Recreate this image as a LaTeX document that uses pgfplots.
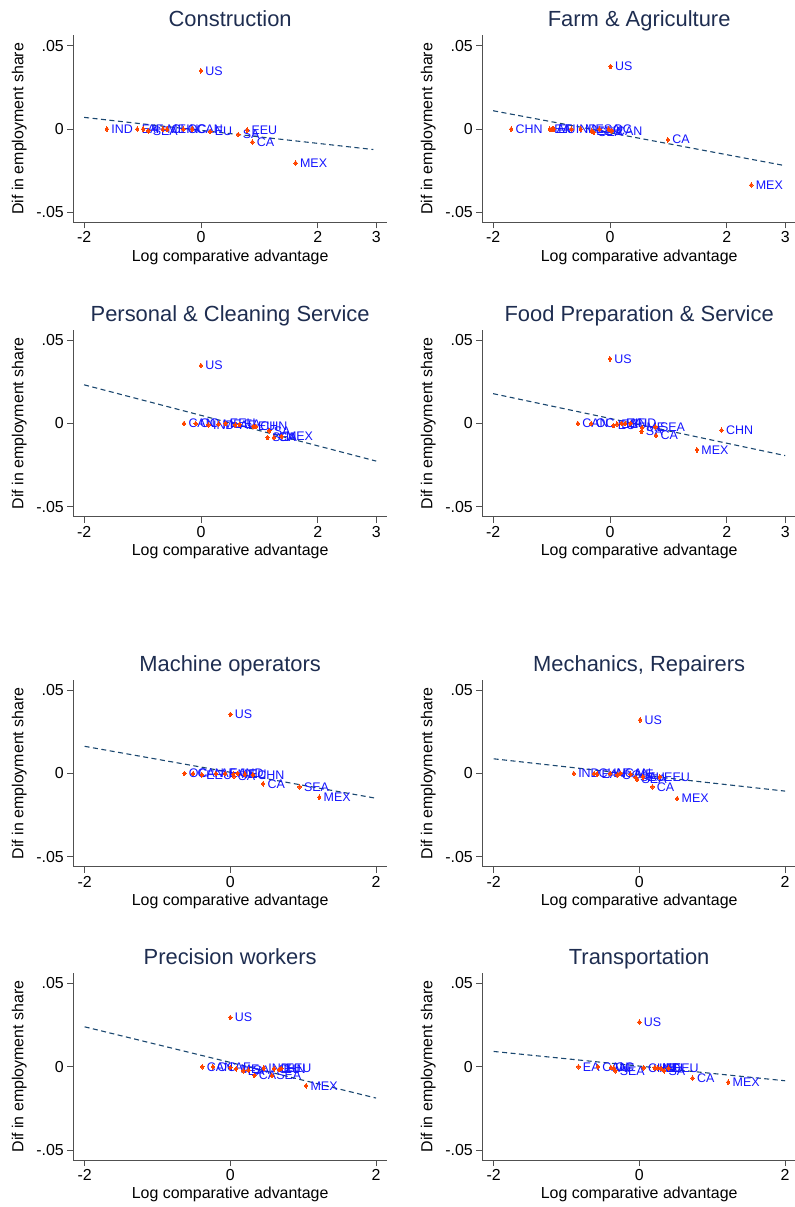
\documentclass[border=0pt]{standalone}
\usepackage{pgfplots}
\usepackage{pgfplotstable}
\pgfplotsset{compat=1.18}
\usepackage{fontspec}
\setmainfont{Liberation Sans}
\definecolor{ttl}{RGB}{30,45,80}
\definecolor{mk}{RGB}{255,69,0}
\definecolor{lb}{RGB}{20,20,255}
\definecolor{fitc}{RGB}{26,71,111}
\definecolor{axc}{RGB}{80,80,80}

% Construction
\pgfplotstableread[row sep=\\]{
x y l\\
0 0.035 US\\
-1.61 0 IND\\
-1.09 0 EA\\
-0.99 0 AF\\
-0.90 -0.001 SEA\\
-0.65 0 ME\\
-0.58 0 CHN\\
-0.30 0 OC\\
-0.15 0 CAN\\
0.16 -0.0015 EU\\
0.64 -0.0033 SA\\
0.79 -0.0006 EEU\\
0.88 -0.0078 CA\\
1.62 -0.0204 MEX\\
}\tA
% Farm
\pgfplotstableread[row sep=\\]{
x y l\\
0.01 0.0376 US\\
-1.69 0 CHN\\
-1.03 0 EA\\
-0.99 0 AF\\
-0.96 0 EU\\
-0.66 0 IND\\
-0.50 0 ME\\
-0.31 -0.0012 EEU\\
-0.28 -0.002 SEA\\
-0.18 0 SA\\
-0.02 0 OC\\
0.03 -0.001 CAN\\
0.99 -0.0064 CA\\
2.42 -0.0336 MEX\\
}\tB
% Personal
\pgfplotstableread[row sep=\\]{
x y l\\
0 0.0348 US\\
-0.29 0 CAN\\
-0.09 0 OC\\
0.13 -0.0008 IND\\
0.30 -0.0004 ME\\
0.42 0 EEU\\
0.59 -0.0008 AF\\
0.66 -0.0006 EA\\
0.90 -0.0018 EU\\
0.94 -0.0018 CHN\\
1.17 -0.0044 SA\\
1.14 -0.0084 SEA\\
1.25 -0.0084 CA\\
1.38 -0.0078 MEX\\
}\tC
% Food
\pgfplotstableread[row sep=\\]{
x y l\\
0 0.0388 US\\
-0.55 0 CAN\\
-0.32 0 OC\\
0.06 -0.0012 EU\\
0.12 -0.0004 EEU\\
0.20 0 EA\\
0.26 0 AF\\
0.35 0 IND\\
0.55 -0.0024 ME\\
0.54 -0.0048 SA\\
0.78 -0.002 SEA\\
0.79 -0.0072 CA\\
1.49 -0.0159 MEX\\
1.91 -0.004 CHN\\
}\tD
% Machine
\pgfplotstableread[row sep=\\]{
x y l\\
0 0.0355 US\\
-0.63 0 OC\\
-0.51 0 CAN\\
-0.39 -0.0008 EEU\\
-0.20 0 AF\\
-0.07 0 EA\\
0.04 -0.0004 ME\\
0.05 -0.0016 SA\\
0.10 0 IND\\
0.20 -0.0004 EU\\
0.31 -0.0008 CHN\\
0.45 -0.0062 CA\\
0.95 -0.008 SEA\\
1.22 -0.0143 MEX\\
}\tE
% Mechanics
\pgfplotstableread[row sep=\\]{
x y l\\
0.01 0.0321 US\\
-0.90 0 IND\\
-0.62 0 CHN\\
-0.58 -0.0004 EA\\
-0.40 0 AF\\
-0.30 -0.0008 OC\\
-0.26 0 CAN\\
-0.12 -0.0004 ME\\
-0.05 -0.0024 SA\\
-0.03 -0.0036 SEA\\
0.05 -0.002 EU\\
0.28 -0.002 EEU\\
0.18 -0.008 CA\\
0.52 -0.0151 MEX\\
}\tF
% Precision
\pgfplotstableread[row sep=\\]{
x y l\\
0 0.0296 US\\
-0.385 0 CAN\\
-0.24 0 OC\\
0.00 -0.0004 AF\\
0.08 -0.0012 ME\\
0.18 -0.0024 EA\\
0.25 -0.002 SA\\
0.33 -0.0052 CA\\
0.46 -0.0008 IND\\
0.57 -0.0052 SEA\\
0.60 -0.0012 CHN\\
0.67 -0.0016 EU\\
0.70 -0.001 EEU\\
1.04 -0.0114 MEX\\
}\tG
% Transportation
\pgfplotstableread[row sep=\\]{
x y l\\
0 0.0268 US\\
-0.835 0 EA\\
-0.57 0 CAN\\
-0.39 -0.0004 OC\\
-0.35 -0.0008 AF\\
-0.33 -0.0024 SEA\\
0.06 -0.0006 CHN\\
0.21 -0.0006 IND\\
0.25 -0.0006 ME\\
0.30 -0.001 EU\\
0.34 -0.0024 SA\\
0.40 -0.0008 EEU\\
0.73 -0.0068 CA\\
1.22 -0.0092 MEX\\
}\tH

\pgfplotsset{
 panel/.style={
  scale only axis, width=313.7bp, height=187bp,
  axis x line=bottom, axis y line=left,
  axis line style={-, draw=axc, line width=0.8bp},
  tick align=outside, major tick length=6bp,
  tick style={draw=axc, line width=0.8bp},
  ymin=-0.056, ymax=0.0563,
  scaled y ticks=false, scaled x ticks=false,
  ytick={-0.05,0,0.05}, yticklabels={-.05,0,.05},
  ticklabel style={font=\fontsize{16}{18}\selectfont, text=black},
  xlabel={Log comparative advantage}, ylabel={Dif in employment share},
  every axis x label/.style={at={(axis description cs:0.5,-0.1856)}, anchor=center, font=\fontsize{16}{18}\selectfont},
  every axis y label/.style={at={(axis description cs:-0.172,0.5)}, anchor=center, rotate=90, font=\fontsize{16}{18}\selectfont},
  every axis title/.style={font=\fontsize{22}{24}\selectfont, text=ttl, at={(axis description cs:0.5,1)}, anchor=base, yshift=8.5bp},
  clip=false,
 },
 wide/.style={xmin=-2.185, xmax=3.185, xtick={-2,0,2,3}, xticklabels={-2,0,2,3}},
 narrow/.style={xmin=-2.155, xmax=2.15, xtick={-2,0,2}, xticklabels={-2,0,2}},
 pts/.style={only marks, mark=diamond*, mark size=2.3bp,
   mark options={fill=mk, draw=mk, line width=0pt},
   nodes near coords, point meta=explicit symbolic,
   every node near coord/.style={anchor=west, inner sep=0pt, xshift=4.5bp, text=lb, font=\fontsize{12.5}{14}\selectfont}},
 fitl/.style={draw=fitc, line width=1.1bp, dash pattern=on 5bp off 3.5bp, no marks},
}

\begin{document}
\begin{tikzpicture}
\useasboundingbox (0,0) rectangle (795bp,-1207bp);

\begin{axis}[panel, wide, at={(73.3bp,-222.3bp)}, anchor=south west, title={Construction}]
\addplot[pts] table[x=x, y=y, meta=l] {\tA};
\addplot[fitl] coordinates {(-2,0.0070) (2.95,-0.0123)};
\end{axis}

\begin{axis}[panel, wide, at={(482.3bp,-222.3bp)}, anchor=south west, title={Farm \& Agriculture}]
\addplot[pts] table[x=x, y=y, meta=l] {\tB};
\addplot[fitl] coordinates {(-2,0.0110) (3,-0.0220)};
\end{axis}

\begin{axis}[panel, wide, at={(73.3bp,-516.7bp)}, anchor=south west, title={Personal \& Cleaning Service}]
\addplot[pts] table[x=x, y=y, meta=l] {\tC};
\addplot[fitl] coordinates {(-2,0.0232) (3,-0.0226)};
\end{axis}

\begin{axis}[panel, wide, at={(482.3bp,-516.7bp)}, anchor=south west, title={Food Preparation \& Service}]
\addplot[pts] table[x=x, y=y, meta=l] {\tD};
\addplot[fitl] coordinates {(-2,0.0179) (3,-0.0193)};
\end{axis}

\begin{axis}[panel, narrow, at={(73.3bp,-866.7bp)}, anchor=south west, title={Machine operators}]
\addplot[pts] table[x=x, y=y, meta=l] {\tE};
\addplot[fitl] coordinates {(-2,0.0163) (2,-0.0149)};
\end{axis}

\begin{axis}[panel, narrow, at={(482.3bp,-866.7bp)}, anchor=south west, title={Mechanics, Repairers}]
\addplot[pts] table[x=x, y=y, meta=l] {\tF};
\addplot[fitl] coordinates {(-2,0.0088) (2,-0.0106)};
\end{axis}

\begin{axis}[panel, narrow, at={(73.3bp,-1160bp)}, anchor=south west, title={Precision workers}]
\addplot[pts] table[x=x, y=y, meta=l] {\tG};
\addplot[fitl] coordinates {(-2,0.0240) (2,-0.0188)};
\end{axis}

\begin{axis}[panel, narrow, at={(482.3bp,-1160bp)}, anchor=south west, title={Transportation}]
\addplot[pts] table[x=x, y=y, meta=l] {\tH};
\addplot[fitl] coordinates {(-2,0.0092) (2,-0.0084)};
\end{axis}
\end{tikzpicture}
\end{document}
